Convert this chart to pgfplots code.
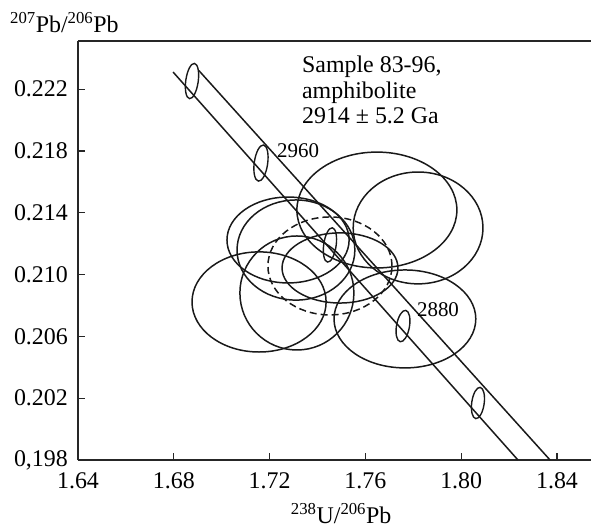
\documentclass[border=0pt]{standalone}
\usepackage{fontspec}
\setmainfont{Liberation Serif}
\usepackage{pgfplots}
\pgfplotsset{compat=1.18}
\begin{document}
\fontsize{24}{28}\selectfont
\begin{tikzpicture}
\begin{axis}[
  scale only axis, width=513bp, height=419bp,
  xmin=1.64, xmax=1.8542, ymin=0.198, ymax=0.22512,
  axis x line*=box, axis y line*=left,
  x axis line style={-}, y axis line style={-},
  axis line style={line width=1.4pt, black!85},
  xtick={1.64,1.68,1.72,1.76,1.80,1.84},
  xticklabels={1.64,1.68,1.72,1.76,1.80,1.84},
  ytick={0.198,0.202,0.206,0.210,0.214,0.218,0.222},
  yticklabels={{0,198},0.202,0.206,0.210,0.214,0.218,0.222},
  xtick pos=left, ytick pos=left,
  tick align=inside, major tick length=7bp,
  tick style={line width=1.3pt, black!85},
  tick label style={font=\fontsize{24}{28}\selectfont},
  xticklabel style={yshift=-4bp},
  yticklabel style={xshift=-2bp},
  clip=false,
]
\coordinate (bl) at (rel axis cs:0,0);
\coordinate (tr) at (rel axis cs:1,1);
% concordia band
\addplot[black!90, line width=1.5pt] coordinates {(1.6797,0.22311) (1.8237,0.198)};
\addplot[black!90, line width=1.5pt] coordinates {(1.6905,0.2232) (1.8371,0.198)};
% age ellipses on concordia
\draw[black!90, line width=1.4pt, rotate around={-8:(axis cs:1.6876,0.22253)}] (axis cs:1.6876,0.22253) ellipse [x radius=0.0026, y radius=0.00115];
\draw[black!90, line width=1.4pt, rotate around={-8:(axis cs:1.7164,0.21722)}] (axis cs:1.7164,0.21722) ellipse [x radius=0.0028, y radius=0.00118];
\draw[black!90, line width=1.4pt, rotate around={-8:(axis cs:1.7452,0.21192)}] (axis cs:1.7452,0.21192) ellipse [x radius=0.0026, y radius=0.00112];
\draw[black!90, line width=1.4pt, rotate around={-10:(axis cs:1.7757,0.20667)}] (axis cs:1.7757,0.20667) ellipse [x radius=0.0027, y radius=0.00103];
\draw[black!90, line width=1.4pt, rotate around={-8:(axis cs:1.8070,0.20169)}] (axis cs:1.8070,0.20169) ellipse [x radius=0.0026, y radius=0.00102];
% data error ellipses
\draw[black!90, line width=1.5pt] (axis cs:1.7648,0.21418) ellipse [x radius=0.0334, y radius=0.00375];
\draw[black!90, line width=1.5pt] (axis cs:1.7820,0.21302) ellipse [x radius=0.0271, y radius=0.00362];
\draw[black!90, line width=1.5pt] (axis cs:1.7765,0.20713) ellipse [x radius=0.0296, y radius=0.00317];
\draw[black!90, line width=1.5pt] (axis cs:1.7156,0.20823) ellipse [x radius=0.0280, y radius=0.00324];
\draw[black!90, line width=1.5pt] (axis cs:1.7277,0.21224) ellipse [x radius=0.0255, y radius=0.00278];
\draw[black!90, line width=1.5pt] (axis cs:1.7310,0.21159) ellipse [x radius=0.0246, y radius=0.00324];
\draw[black!90, line width=1.5pt] (axis cs:1.7314,0.20881) ellipse [x radius=0.0238, y radius=0.00369];
\draw[black!90, line width=1.5pt] (axis cs:1.7494,0.21043) ellipse [x radius=0.0242, y radius=0.00227];
\draw[black!90, line width=1.5pt, dash pattern=on 7bp off 4bp] (axis cs:1.7452,0.21056) ellipse [x radius=0.0259, y radius=0.00317];
% labels
\node[anchor=base west, inner sep=0, font=\fontsize{21}{24}\selectfont] at (axis cs:1.7231,0.21761) {2960};
\node[anchor=base west, inner sep=0, font=\fontsize{21}{24}\selectfont] at (axis cs:1.7815,0.20726) {2880};
\node[anchor=north west, inner sep=0, align=left, font=\fontsize{24}{25.5}\selectfont] at (axis cs:1.7335,0.22415) {Sample 83-96,\\amphibolite\\2914 ± 5.2 Ga};
\node[anchor=base west, inner sep=0, xshift=-68bp, yshift=8bp] at (rel axis cs:0,1) {\textsuperscript{207}Pb/\textsuperscript{206}Pb};
\node[anchor=base, inner sep=0, yshift=-63bp] at (rel axis cs:0.513,0) {\textsuperscript{238}U/\textsuperscript{206}Pb};
\end{axis}
\pgfresetboundingbox
\path[use as bounding box] ([shift={(-78bp,-70bp)}]bl) rectangle ([shift={(0bp,41bp)}]tr);
\end{tikzpicture}
\end{document}
